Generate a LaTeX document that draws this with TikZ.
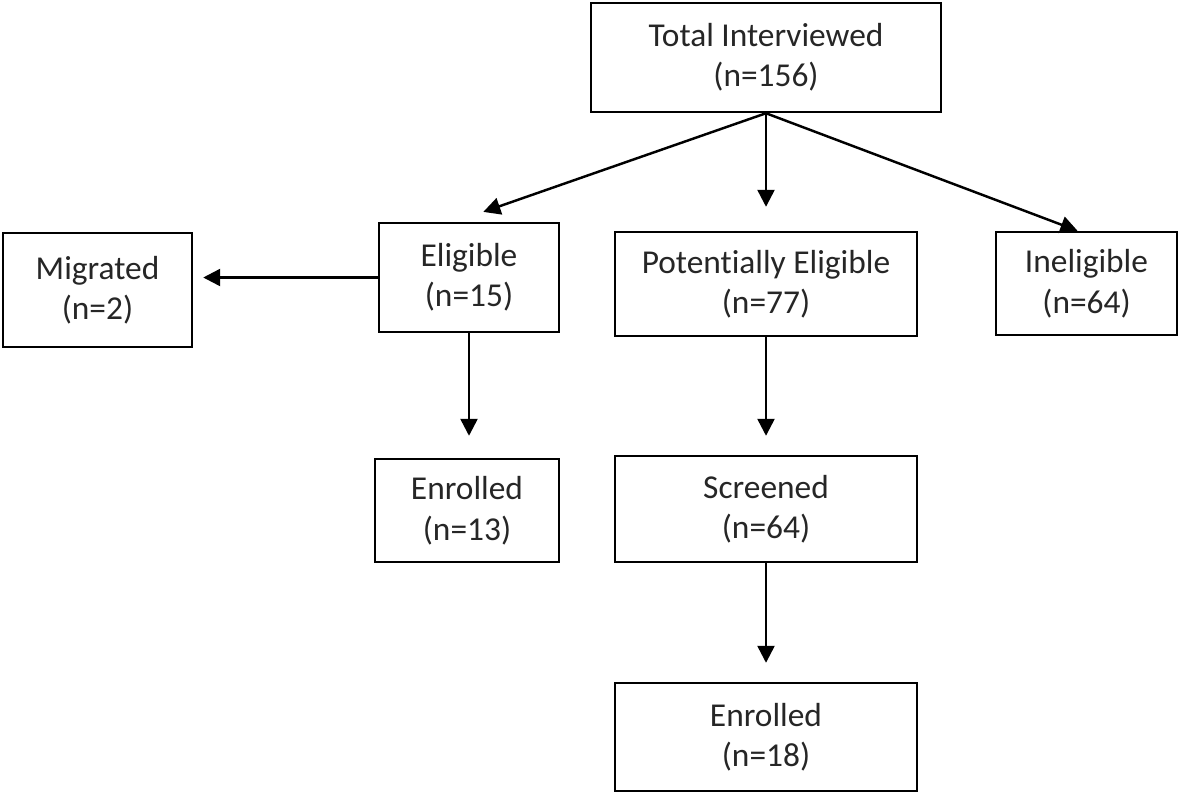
\documentclass[tikz,border=0pt]{standalone}
\usepackage{fontspec}
\setmainfont[Ligatures=NoCommon]{Carlito}
\usepackage{tikz}
\usetikzlibrary{arrows.meta,calc}

\begin{document}
\begin{tikzpicture}[
  box/.style={draw,line width=0.7pt,align=center,inner sep=2pt,
    font=\fontsize{9.5}{11.5}\selectfont,text=black!85},
  arr/.style={-{Triangle[length=0.17cm,width=0.17cm]},line width=0.7pt}]
  \useasboundingbox (0,0) rectangle (11.81,-7.96);

  % Top: everyone interviewed
  \node[box,minimum width=3.5cm,minimum height=1.09cm] (total) at (7.66,-0.575) {Total Interviewed\\(n=156)};

  % Second row
  \node[box,minimum width=1.89cm,minimum height=1.14cm] (migrated) at (0.975,-2.9) {Migrated\\(n=2)};
  \node[box,minimum width=1.8cm,minimum height=1.09cm] (eligible) at (4.69,-2.775) {Eligible\\(n=15)};
  \node[box,minimum width=3.02cm,minimum height=1.04cm] (potential) at (7.66,-2.84) {Potentially Eligible\\(n=77)};
  \node[box,minimum width=1.81cm,minimum height=1.03cm] (ineligible) at (10.865,-2.835) {Ineligible\\(n=64)};

  % Third and fourth rows
  \node[box,minimum width=1.84cm,minimum height=1.03cm] (enrolledA) at (4.67,-5.105) {Enrolled\\(n=13)};
  \node[box,minimum width=3.02cm,minimum height=1.06cm] (screened) at (7.66,-5.09) {Screened\\(n=64)};
  \node[box,minimum width=3.02cm,minimum height=1.08cm] (enrolledB) at (7.66,-7.37) {Enrolled\\(n=18)};

  % Arrows out of the top box
  \draw[arr,shorten >=0.3cm] (total.south) -- ([xshift=-0.14cm]eligible.north);
  \draw[arr,shorten >=0.24cm] (total.south) -- (potential.north);
  \draw[arr] (total.south) -- ([xshift=-0.09cm]ineligible.north);

  % Left branch
  \draw[arr,shorten >=0.1cm] (eligible.west) -- (eligible.west -| migrated.east);
  \draw[arr,shorten >=0.22cm] (eligible.south) -- (eligible.south |- enrolledA.north);

  % Middle branch
  \draw[arr,shorten >=0.19cm] (potential.south) -- (screened.north);
  \draw[arr,shorten >=0.19cm] (screened.south) -- (enrolledB.north);
\end{tikzpicture}
\end{document}
